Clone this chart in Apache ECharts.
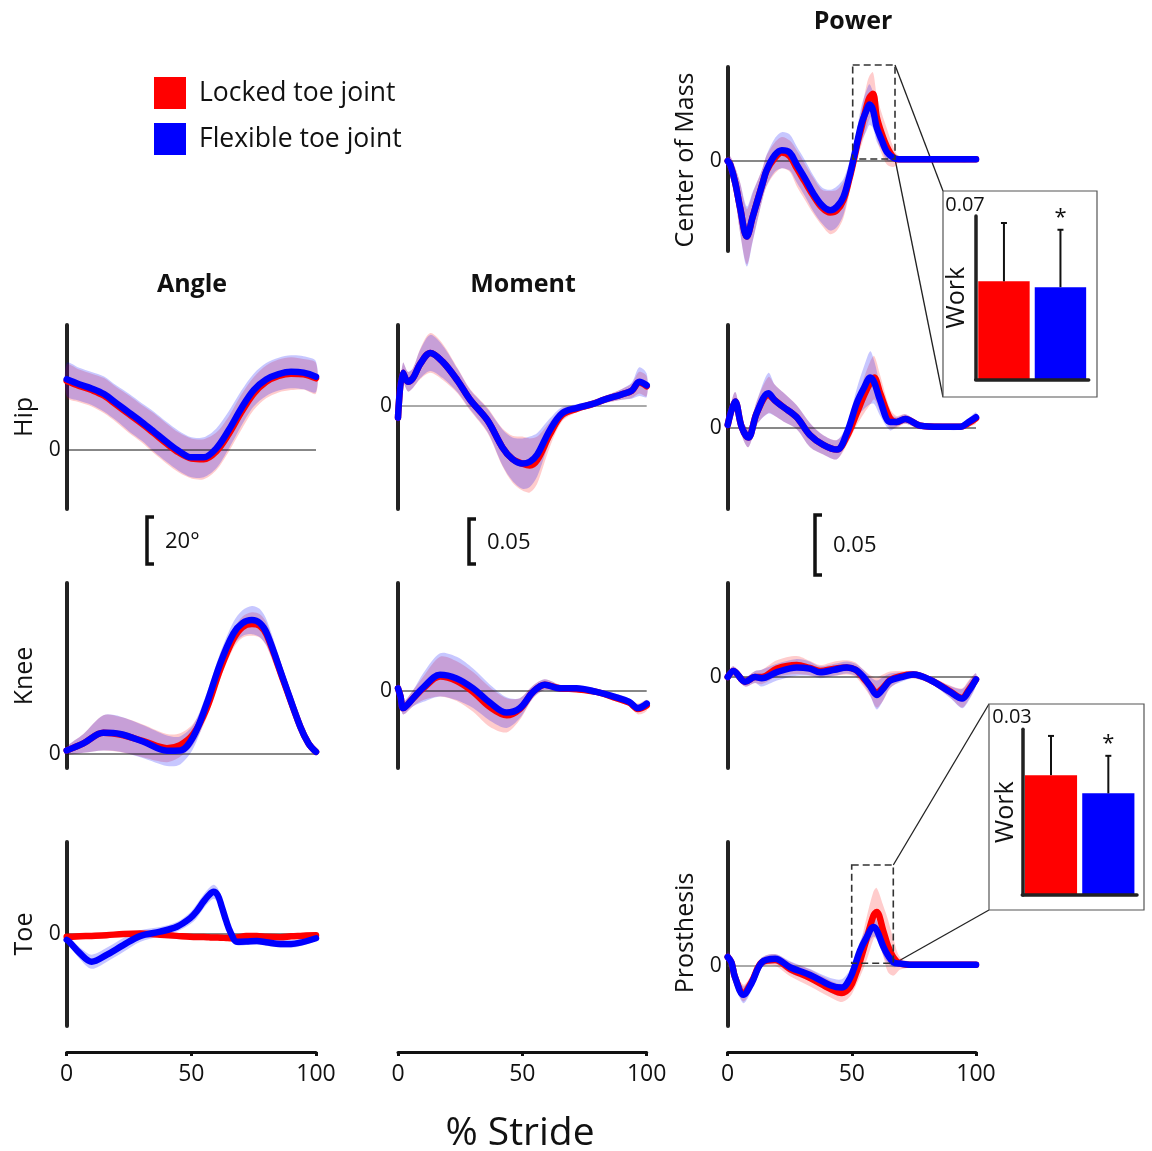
<!DOCTYPE html>
<html lang="en">
<head>
<meta charset="UTF-8">
<title>Toe joint gait</title>
<script src="https://cdn.jsdelivr.net/npm/echarts@6/dist/echarts.min.js"></script>
<style>
    html, body { margin: 0; padding: 0; background: #fff; }
    #main { width: 1152px; height: 1151px; }
</style>
</head>
<body>
<div id="main"></div>
<script>
// ---- data (% stride, mean and sd per condition) ----
// Angle (deg)
var angleHipX = [0, 5, 10, 15, 20, 25, 30, 35, 40, 45, 50, 55, 60, 65, 70, 75, 80, 85, 90, 95, 100];
var angleHipLocked = [29.4, 27.3, 25.5, 23.1, 19.2, 15.2, 11.3, 7.1, 2.8, -1.1, -3.6, -3.9, -0.6, 6.8, 16, 24, 29, 31.5, 32.5, 32.2, 30.5];
var angleHipFlex = [30.1, 28, 26.2, 23.8, 19.9, 15.9, 12, 7.8, 3.5, -0.4, -3.1, -3.1, 0.7, 8.5, 17.7, 25.5, 30, 32.3, 33.3, 32.9, 31.2];
var angleHipLockedSd = [7, 7, 7, 7.5, 7.5, 8, 8, 8.5, 8.5, 8.5, 8.5, 8.5, 8, 7.5, 7.5, 7, 7, 7, 7, 6.5, 6.5];
var angleHipFlexSd = [7, 7, 7, 7.5, 7.5, 8, 8, 8.5, 8.5, 8.5, 8.5, 8.5, 8.5, 8, 7.5, 7, 7, 7, 7, 7, 6.5];

var angleKneeX = [0, 6.7, 14.7, 21.4, 30.8, 40.2, 45.5, 50.8, 56.2, 61.6, 66.9, 70.5, 74.3, 77.5, 80.3, 87, 93.7, 97, 100];
var angleKneeLocked = [1.5, 4.5, 9, 8.3, 5.5, 2.5, 3.8, 8.5, 19.5, 36, 49, 54, 55.3, 54.5, 50.5, 31, 11.6, 4.5, 0.9];
var angleKneeFlex = [1.5, 4.5, 9, 8.5, 5.2, 1.4, 1.5, 7.4, 21.6, 38.6, 51.3, 55.7, 57, 55.7, 51.3, 31.5, 11.6, 4.5, 0.9];
var angleKneeLockedSd = [1.5, 4, 7.5, 7.5, 7, 6, 5, 4.5, 4, 4, 4, 4.5, 5, 5, 5, 4, 2.5, 1.5, 1];
var angleKneeFlexSd = [1.5, 4, 7.5, 7.5, 7, 6.5, 6, 5, 4.5, 4.5, 5, 5.5, 6, 6, 5.5, 4, 2.5, 1.5, 1];

var angleToeX = [0, 1, 5.3, 10, 16, 22.7, 29.4, 37.5, 44.2, 49.5, 52, 54.9, 57, 58.9, 60.6, 62.2, 64, 65.6, 68.3, 72, 76.3, 80, 85.7, 90, 93.7, 100];
var angleToeLocked = [-1.2, -1.2, -1, -0.8, -0.5, 0, 0.2, -0.3, -0.8, -1.2, -1.3, -1.3, -1.4, -1.5, -1.5, -1.6, -1.7, -1.8, -1.5, -0.9, -0.8, -1.2, -1.4, -1, -0.8, -0.5];
var angleToeFlex = [-2.5, -3.3, -8.2, -11.8, -8.9, -4.7, -0.9, 1, 3.1, 6.7, 9.5, 13.8, 16.5, 18, 16.5, 11.6, 5.5, 1, -3.3, -3.2, -3, -3.5, -4.3, -4.3, -3.7, -1.8];
var angleToeLockedSd = [1.2, 1.2, 1.2, 1.2, 1.2, 1.2, 1.2, 1.2, 1.2, 1.2, 1.2, 1.2, 1.2, 1.2, 1.2, 1.2, 1.2, 1.2, 1.2, 1.2, 1.2, 1.2, 1.2, 1.2, 1.2, 1.2];
var angleToeFlexSd = [1, 1.5, 2.5, 3, 3, 3, 2.5, 2, 2, 2.5, 3, 3, 3, 3, 3, 3, 2.5, 2, 1.5, 1.5, 1.5, 1.5, 1.5, 1.5, 1.5, 1];

// Moment
var momentHipX = [0, 2, 4, 6, 9, 13, 18, 24, 29, 36, 42, 46, 50, 53, 56, 61, 66, 72, 78, 83, 90, 94, 97, 100];
var momentHipLocked = [-0.013, 0.037, 0.027, 0.031, 0.047, 0.059, 0.049, 0.028, 0.007, -0.016, -0.046, -0.059, -0.064, -0.066, -0.06, -0.032, -0.01, -0.003, 0.002, 0.007, 0.013, 0.017, 0.026, 0.022];
var momentHipFlex = [-0.013, 0.037, 0.027, 0.031, 0.047, 0.059, 0.049, 0.028, 0.007, -0.016, -0.046, -0.059, -0.064, -0.062, -0.054, -0.027, -0.008, -0.002, 0.002, 0.007, 0.013, 0.017, 0.027, 0.023];
var momentHipLockedSd = [0.009, 0.011, 0.011, 0.011, 0.017, 0.022, 0.02, 0.014, 0.012, 0.014, 0.021, 0.026, 0.03, 0.03, 0.026, 0.014, 0.007, 0.004, 0.004, 0.004, 0.006, 0.008, 0.012, 0.011];
var momentHipFlexSd = [0.009, 0.011, 0.011, 0.011, 0.016, 0.02, 0.018, 0.013, 0.011, 0.013, 0.02, 0.024, 0.028, 0.028, 0.024, 0.013, 0.007, 0.004, 0.004, 0.004, 0.006, 0.009, 0.016, 0.013];

var momentKneeX = [0, 1, 2.1, 6.1, 10.2, 16.9, 23.6, 30.2, 37, 43.7, 49, 54.3, 59, 65, 71.8, 79.8, 87.8, 93, 96.5, 100];
var momentKneeLocked = [0.003, -0.006, -0.019, -0.008, 0.003, 0.016, 0.011, -0.001, -0.018, -0.027, -0.02, -0.001, 0.007, 0.003, 0.002, -0.001, -0.008, -0.013, -0.02, -0.016];
var momentKneeFlex = [0.003, -0.006, -0.019, -0.008, 0.004, 0.018, 0.014, 0.003, -0.013, -0.024, -0.019, -0.001, 0.007, 0.003, 0.003, -0.001, -0.007, -0.012, -0.019, -0.014];
var momentKneeLockedSd = [0.006, 0.007, 0.007, 0.009, 0.013, 0.022, 0.022, 0.022, 0.022, 0.019, 0.012, 0.007, 0.006, 0.004, 0.003, 0.003, 0.004, 0.004, 0.006, 0.006];
var momentKneeFlexSd = [0.006, 0.007, 0.007, 0.009, 0.016, 0.024, 0.024, 0.022, 0.02, 0.017, 0.011, 0.007, 0.006, 0.004, 0.003, 0.003, 0.004, 0.004, 0.004, 0.004];

// Power
var powerComX = [0, 1, 3, 5, 7.7, 10, 11.7, 14, 15.7, 19, 21.8, 25, 27.8, 31, 34.5, 38, 41.3, 44, 46.6, 49, 50.6, 52.5, 54, 56, 57.1, 58.5, 60, 62, 64.1, 66.8, 69, 75, 85, 100];
var powerComLocked = [0, -0.003, -0.018, -0.039, -0.063, -0.047, -0.035, -0.019, -0.008, 0.0025, 0.007, 0.004, -0.006, -0.017, -0.029, -0.039, -0.043, -0.041, -0.0325, -0.015, -0.001, 0.017, 0.029, 0.046, 0.053, 0.056, 0.037, 0.023, 0.012, 0.003, 0.0015, 0.0015, 0.0015, 0.0015];
var powerComFlex = [0, -0.003, -0.018, -0.039, -0.063, -0.047, -0.035, -0.019, -0.0075, 0.005, 0.009, 0.007, -0.003, -0.014, -0.027, -0.037, -0.041, -0.038, -0.03, -0.013, 0.001, 0.019, 0.032, 0.0425, 0.047, 0.0425, 0.028, 0.0175, 0.0075, 0.0025, 0.0015, 0.0015, 0.0015, 0.0015];
var powerComLockedSd = [0.003, 0.007, 0.0125, 0.021, 0.023, 0.02, 0.017, 0.013, 0.013, 0.013, 0.013, 0.013, 0.015, 0.015, 0.015, 0.015, 0.018, 0.017, 0.015, 0.012, 0.01, 0.0125, 0.015, 0.018, 0.018, 0.018, 0.018, 0.017, 0.015, 0.008, 0.0025, 0.002, 0.002, 0.002];
var powerComFlexSd = [0.003, 0.007, 0.0125, 0.021, 0.025, 0.021, 0.017, 0.013, 0.013, 0.014, 0.015, 0.015, 0.015, 0.015, 0.015, 0.015, 0.017, 0.017, 0.015, 0.012, 0.01, 0.0125, 0.015, 0.017, 0.017, 0.015, 0.012, 0.008, 0.007, 0.003, 0.002, 0.002, 0.002, 0.002];

var powerHipX = [0, 3, 5.6, 8.3, 11.7, 16.4, 19, 22.4, 27.8, 33.2, 38.5, 44, 48, 52, 55, 57.4, 59, 61.4, 65.4, 68, 71.5, 77.5, 85.6, 93.7, 97, 100];
var powerHipLocked = [0.0025, 0.022, 0.001, -0.008, 0.0125, 0.0275, 0.023, 0.0175, 0.009, -0.006, -0.014, -0.018, -0.007, 0.0125, 0.0275, 0.0375, 0.042, 0.029, 0.008, 0.005, 0.0075, 0.002, 0.001, 0.001, 0.004, 0.008];
var powerHipFlex = [0.0025, 0.022, 0.001, -0.008, 0.0125, 0.029, 0.023, 0.0175, 0.009, -0.006, -0.014, -0.018, -0.004, 0.021, 0.034, 0.042, 0.038, 0.023, 0.005, 0.005, 0.0075, 0.002, 0.001, 0.001, 0.005, 0.009];
var powerHipLockedSd = [0.005, 0.008, 0.007, 0.008, 0.01, 0.015, 0.013, 0.012, 0.01, 0.01, 0.008, 0.008, 0.007, 0.01, 0.015, 0.018, 0.018, 0.015, 0.008, 0.005, 0.004, 0.003, 0.0025, 0.0025, 0.003, 0.004];
var powerHipFlexSd = [0.005, 0.008, 0.007, 0.008, 0.01, 0.017, 0.013, 0.012, 0.01, 0.01, 0.008, 0.008, 0.007, 0.012, 0.018, 0.022, 0.018, 0.013, 0.007, 0.004, 0.004, 0.003, 0.0025, 0.0025, 0.003, 0.004];

var powerKneeX = [0, 2.3, 7, 11, 13.7, 19.8, 27.8, 33, 37.2, 43, 48, 51.5, 54.7, 57.5, 60, 62.5, 65.4, 70, 74.8, 81.6, 89.6, 94.4, 97, 100];
var powerKneeLocked = [0, 0.005, -0.004, 0, 0, 0.007, 0.01, 0.0075, 0.005, 0.007, 0.008, 0.006, -0.001, -0.0075, -0.013, -0.009, -0.0025, 0.001, 0.002, -0.0025, -0.012, -0.0175, -0.011, -0.002];
var powerKneeFlex = [0, 0.005, -0.004, 0, -0.001, 0.004, 0.008, 0.007, 0.004, 0.006, 0.008, 0.006, 0, -0.008, -0.015, -0.01, -0.003, 0, 0.002, -0.0025, -0.0125, -0.018, -0.012, -0.002];
var powerKneeLockedSd = [0.003, 0.004, 0.004, 0.005, 0.006, 0.007, 0.0075, 0.006, 0.005, 0.006, 0.006, 0.006, 0.007, 0.009, 0.0125, 0.011, 0.007, 0.004, 0.003, 0.003, 0.005, 0.008, 0.008, 0.005];
var powerKneeFlexSd = [0.003, 0.004, 0.004, 0.005, 0.007, 0.007, 0.007, 0.006, 0.005, 0.005, 0.005, 0.005, 0.006, 0.008, 0.012, 0.01, 0.006, 0.004, 0.003, 0.003, 0.005, 0.008, 0.008, 0.005];

var powerProsX = [0, 1.5, 2.9, 6.3, 9.7, 13.7, 19.1, 25.1, 33.2, 41.3, 46, 49.3, 51.5, 53.3, 56, 58.7, 60, 62.7, 64.5, 66.8, 69.5, 75, 85, 100];
var powerProsLocked = [0.0075, 0.003, -0.009, -0.0225, -0.013, 0.003, 0.005, -0.0025, -0.01, -0.019, -0.0225, -0.0175, -0.007, 0.004, 0.023, 0.042, 0.045, 0.029, 0.017, 0.007, 0.002, 0.001, 0.001, 0.001];
var powerProsFlex = [0.0075, 0.003, -0.009, -0.024, -0.014, 0.003, 0.006, -0.001, -0.0075, -0.016, -0.018, -0.01, 0.002, 0.013, 0.024, 0.0325, 0.03, 0.016, 0.009, 0.003, 0.002, 0.001, 0.001, 0.001];
var powerProsLockedSd = [0.005, 0.005, 0.006, 0.007, 0.006, 0.004, 0.005, 0.006, 0.007, 0.007, 0.0075, 0.008, 0.01, 0.013, 0.018, 0.02, 0.02, 0.021, 0.022, 0.015, 0.005, 0.002, 0.002, 0.002];
var powerProsFlexSd = [0.005, 0.005, 0.006, 0.007, 0.006, 0.004, 0.004, 0.005, 0.005, 0.006, 0.007, 0.007, 0.007, 0.0075, 0.008, 0.008, 0.008, 0.0075, 0.007, 0.004, 0.0025, 0.002, 0.002, 0.002];

// positive work in the dashed windows (inset bars)
var workNames = ['Locked toe joint', 'Flexible toe joint'];
var comWork = [0.042, 0.0395];
var comWorkErr = [0.025, 0.0246];
var prosWork = [0.0217, 0.0184];
var prosWorkErr = [0.0071, 0.0068];
var workSignificant = [false, true];
var comWorkMax = 0.07;
var prosWorkMax = 0.03;

// ---- layout ----
var FONT = 'Open Sans';
var RED = '#ff0000', BLUE = '#0000ff';
var COL = {
    angle: {left: 66.7, width: 249.3},
    moment: {left: 398, width: 248.7},
    power: {left: 727.7, width: 248.3}
};
// pixels per unit, taken from the scale bars (20 deg, 0.05, 0.05)
var PX = {angle: 2.35, moment: 900, power: 1200};

var panels = [
    {col: 'angle', top: 325, bottom: 509, zero: 450, x: angleHipX, lo: angleHipLocked, fl: angleHipFlex, loSd: angleHipLockedSd, flSd: angleHipFlexSd},
    {col: 'angle', top: 583, bottom: 768, zero: 754, x: angleKneeX, lo: angleKneeLocked, fl: angleKneeFlex, loSd: angleKneeLockedSd, flSd: angleKneeFlexSd},
    {col: 'angle', top: 842, bottom: 1026, zero: 934, x: angleToeX, lo: angleToeLocked, fl: angleToeFlex, loSd: angleToeLockedSd, flSd: angleToeFlexSd},
    {col: 'moment', top: 325, bottom: 509, zero: 406, x: momentHipX, lo: momentHipLocked, fl: momentHipFlex, loSd: momentHipLockedSd, flSd: momentHipFlexSd, zeroColor: '#555'},
    {col: 'moment', top: 583, bottom: 768, zero: 691, x: momentKneeX, lo: momentKneeLocked, fl: momentKneeFlex, loSd: momentKneeLockedSd, flSd: momentKneeFlexSd},
    {col: 'power', top: 67, bottom: 251, zero: 161, x: powerComX, lo: powerComLocked, fl: powerComFlex, loSd: powerComLockedSd, flSd: powerComFlexSd},
    {col: 'power', top: 325, bottom: 509, zero: 428, x: powerHipX, lo: powerHipLocked, fl: powerHipFlex, loSd: powerHipLockedSd, flSd: powerHipFlexSd},
    {col: 'power', top: 583, bottom: 768, zero: 677, x: powerKneeX, lo: powerKneeLocked, fl: powerKneeFlex, loSd: powerKneeLockedSd, flSd: powerKneeFlexSd},
    {col: 'power', top: 842, bottom: 1026, zero: 966, x: powerProsX, lo: powerProsLocked, fl: powerProsFlex, loSd: powerProsLockedSd, flSd: powerProsFlexSd, zeroColor: '#555'}
];

function zip(xs, ys) {
    return xs.map(function (x, i) { return [x, ys[i]]; });
}

// shaded +-sd band drawn as one polygon through the axes
function band(gi, xs, mean, sd, color) {
    return {
        type: 'custom', xAxisIndex: gi, yAxisIndex: gi, silent: true, clip: false,
        data: [[xs[0], mean[0]]],
        renderItem: function (params, api) {
            var upper = [], lower = [];
            for (var i = 0; i < xs.length; i++) {
                upper.push(api.coord([xs[i], mean[i] + sd[i]]));
                lower.unshift(api.coord([xs[i], mean[i] - sd[i]]));
            }
            return {type: 'polygon', shape: {points: upper.concat(lower), smooth: 0.3}, style: {fill: color}};
        }
    };
}

function meanLine(gi, name, xs, ys, color) {
    return {
        type: 'line', name: name, xAxisIndex: gi, yAxisIndex: gi, data: zip(xs, ys),
        showSymbol: false, symbol: 'none', smooth: 0.35, clip: false, silent: true,
        itemStyle: {color: color, borderWidth: 0},
        lineStyle: {color: color, width: 6.5, cap: 'round', join: 'round'}
    };
}

var grids = [], xAxes = [], yAxes = [], series = [];

panels.forEach(function (p, i) {
    var c = COL[p.col], k = PX[p.col];
    grids.push({left: c.left, top: p.top, width: c.width, height: p.bottom - p.top, outerBoundsMode: 'none'});
    xAxes.push({gridIndex: i, type: 'value', min: 0, max: 100, show: false});
    yAxes.push({
        gridIndex: i, type: 'value', min: -(p.bottom - p.zero) / k, max: (p.zero - p.top) / k,
        axisLine: {show: true, onZero: false, lineStyle: {color: '#222', width: 4}},
        axisTick: {show: false}, splitLine: {show: false},
        axisLabel: {customValues: [0], fontSize: 21, color: '#111', margin: 6, fontFamily: FONT}
    });
    series.push(band(i, p.x, p.lo, p.loSd, 'rgba(255,0,0,0.2)'));
    series.push(band(i, p.x, p.fl, p.flSd, 'rgba(0,0,255,0.22)'));
    series.push({
        type: 'line', xAxisIndex: i, yAxisIndex: i, data: [[0, 0], [100, 0]], symbol: 'none', silent: true,
        lineStyle: {color: p.zeroColor || '#111', width: 1}
    });
    series.push(meanLine(i, 'Locked toe joint', p.x, p.lo, RED));
    series.push(meanLine(i, 'Flexible toe joint', p.x, p.fl, BLUE));
});

// % stride axes at the bottom of each column
['angle', 'moment', 'power'].forEach(function (cn) {
    var c = COL[cn], gi = grids.length;
    grids.push({left: c.left, top: 1040, width: c.width, height: 12, outerBoundsMode: 'none'});
    xAxes.push({
        gridIndex: gi, type: 'value', min: 0, max: 100, interval: 50, position: 'bottom',
        axisLine: {onZero: false, lineStyle: {color: '#111', width: 3}},
        axisTick: {show: true, length: 4, lineStyle: {color: '#111', width: 3}},
        axisLabel: {fontSize: 23, color: '#111', margin: 11, fontFamily: FONT, showMinLabel: true, showMaxLabel: true},
        splitLine: {show: false}
    });
    yAxes.push({gridIndex: gi, type: 'value', show: false});
});

// inset bar charts of work
function inset(box, max, vals, errs, nameGap) {
    var gi = grids.length;
    grids.push({left: box.left, top: box.top, width: box.width, height: box.height, outerBoundsMode: 'none'});
    xAxes.push({
        gridIndex: gi, type: 'category', data: workNames, z: 6,
        axisLine: {lineStyle: {color: '#222', width: 3.5}}, axisTick: {show: false}, axisLabel: {show: false}
    });
    yAxes.push({
        gridIndex: gi, type: 'value', min: 0, max: max, z: 6,
        name: 'Work', nameLocation: 'middle', nameGap: nameGap,
        nameTextStyle: {fontSize: 25, color: '#111', fontFamily: FONT},
        axisLine: {show: true, lineStyle: {color: '#222', width: 3.5}}, axisTick: {show: false}, splitLine: {show: false},
        axisLabel: {show: false}
    });
    series.push({
        type: 'bar', xAxisIndex: gi, yAxisIndex: gi, barWidth: '91%', silent: true,
        data: vals.map(function (v, i) { return {value: v, itemStyle: {color: i === 0 ? RED : BLUE}}; })
    });
    series.push({
        type: 'custom', xAxisIndex: gi, yAxisIndex: gi, silent: true, z: 5,
        data: vals.map(function (v, i) { return [i, v, v + errs[i], workSignificant[i] ? 1 : 0]; }),
        renderItem: function (params, api) {
            var base = api.coord([api.value(0), api.value(1)]);
            var top = api.coord([api.value(0), api.value(2)]);
            var kids = [
                {type: 'line', shape: {x1: base[0], y1: base[1], x2: top[0], y2: top[1]}, style: {stroke: '#111', lineWidth: 2}},
                {type: 'line', shape: {x1: top[0] - 3, y1: top[1], x2: top[0] + 3, y2: top[1]}, style: {stroke: '#111', lineWidth: 2}}
            ];
            if (api.value(3)) {
                kids.push({type: 'text', x: top[0], y: top[1] - 12, style: {text: '*', fontSize: 22, fontFamily: FONT, fill: '#111', align: 'center', verticalAlign: 'middle'}});
            }
            return {type: 'group', children: kids};
        }
    });
}
inset({left: 975.7, top: 216, width: 113, height: 163.3}, comWorkMax, comWork, comWorkErr, 6);
inset({left: 1022.3, top: 729.3, width: 114.7, height: 165.7}, prosWorkMax, prosWork, prosWorkErr, 4);

// ---- annotations ----
var g = [];
function text(x, y, s, size, extra) {
    var el = {type: 'text', x: x, y: y, z: 10, style: {text: s, fontSize: size, fontFamily: FONT, fill: '#111', align: 'center', verticalAlign: 'middle'}};
    extra = extra || {};
    if (extra.rotation) el.rotation = extra.rotation;
    if (extra.bold) el.style.fontWeight = 'bold';
    if (extra.align) el.style.align = extra.align;
    return el;
}
g.push(text(192, 285, 'Angle', 25, {bold: true}));
g.push(text(523, 285, 'Moment', 25, {bold: true}));
g.push(text(853, 22, 'Power', 25, {bold: true}));
g.push(text(25, 417, 'Hip', 25, {rotation: Math.PI / 2}));
g.push(text(25, 676, 'Knee', 25, {rotation: Math.PI / 2}));
g.push(text(25, 934, 'Toe', 25, {rotation: Math.PI / 2}));
g.push(text(686, 160, 'Center of Mass', 25, {rotation: Math.PI / 2}));
g.push(text(686, 933, 'Prosthesis', 25, {rotation: Math.PI / 2}));
g.push(text(520, 1134, '% Stride', 39));
// inset y maxima
g.push(text(965, 205, String(comWorkMax), 20));
g.push(text(1012, 717, String(prosWorkMax), 20));

// scale bars
function scaleBar(x, bottom, len, label) {
    g.push({type: 'polyline', z: 10, shape: {points: [[x + 7, bottom - len], [x, bottom - len], [x, bottom], [x + 7, bottom]]},
        style: {stroke: '#111', lineWidth: 3.5, fill: null}});
    g.push(text(x + 18, bottom - len / 2 + 1, label, 22, {align: 'left'}));
}
scaleBar(147, 564, 20 * PX.angle, '20°');
scaleBar(469, 564, 0.05 * PX.moment, '0.05');
scaleBar(815, 575, 0.05 * PX.power, '0.05');

// dashed windows, zoom connectors and inset frames (frames sit under the inset axes)
function dashed(x, y, w, h) {
    g.push({type: 'rect', z: 10, shape: {x: x, y: y, width: w, height: h}, style: {stroke: '#333', lineWidth: 1.6, lineDash: [7, 4], fill: null}});
}
function seg(x1, y1, x2, y2) {
    g.push({type: 'line', z: 1, shape: {x1: x1, y1: y1, x2: x2, y2: y2}, style: {stroke: '#222', lineWidth: 1.3}});
}
function frame(x, y, w, h) {
    g.push({type: 'rect', z: 1, shape: {x: x, y: y, width: w, height: h}, style: {stroke: '#555', lineWidth: 1.2, fill: '#fff'}});
}
dashed(852.7, 65, 42.3, 94);
seg(895, 65, 943, 191);
seg(895, 159, 943, 397);
frame(943, 191, 154, 206);
dashed(851.7, 865, 41.6, 98.3);
seg(893.3, 865, 989, 704);
seg(896, 962.5, 989, 910);
frame(989, 704, 155, 206);

var chart = echarts.init(document.getElementById('main'));
chart.setOption({
    animation: false,
    backgroundColor: '#fff',
    legend: {
        orient: 'vertical', left: 154, top: 77, padding: 0, itemWidth: 32, itemHeight: 32, itemGap: 14, icon: 'rect',
        selectedMode: false, data: workNames, itemStyle: {borderWidth: 0},
        textStyle: {fontSize: 26.5, fontFamily: FONT, color: '#111', padding: [0, 0, 0, 8]}
    },
    grid: grids,
    xAxis: xAxes,
    yAxis: yAxes,
    series: series,
    graphic: {elements: g}
});
</script>
</body>
</html>
